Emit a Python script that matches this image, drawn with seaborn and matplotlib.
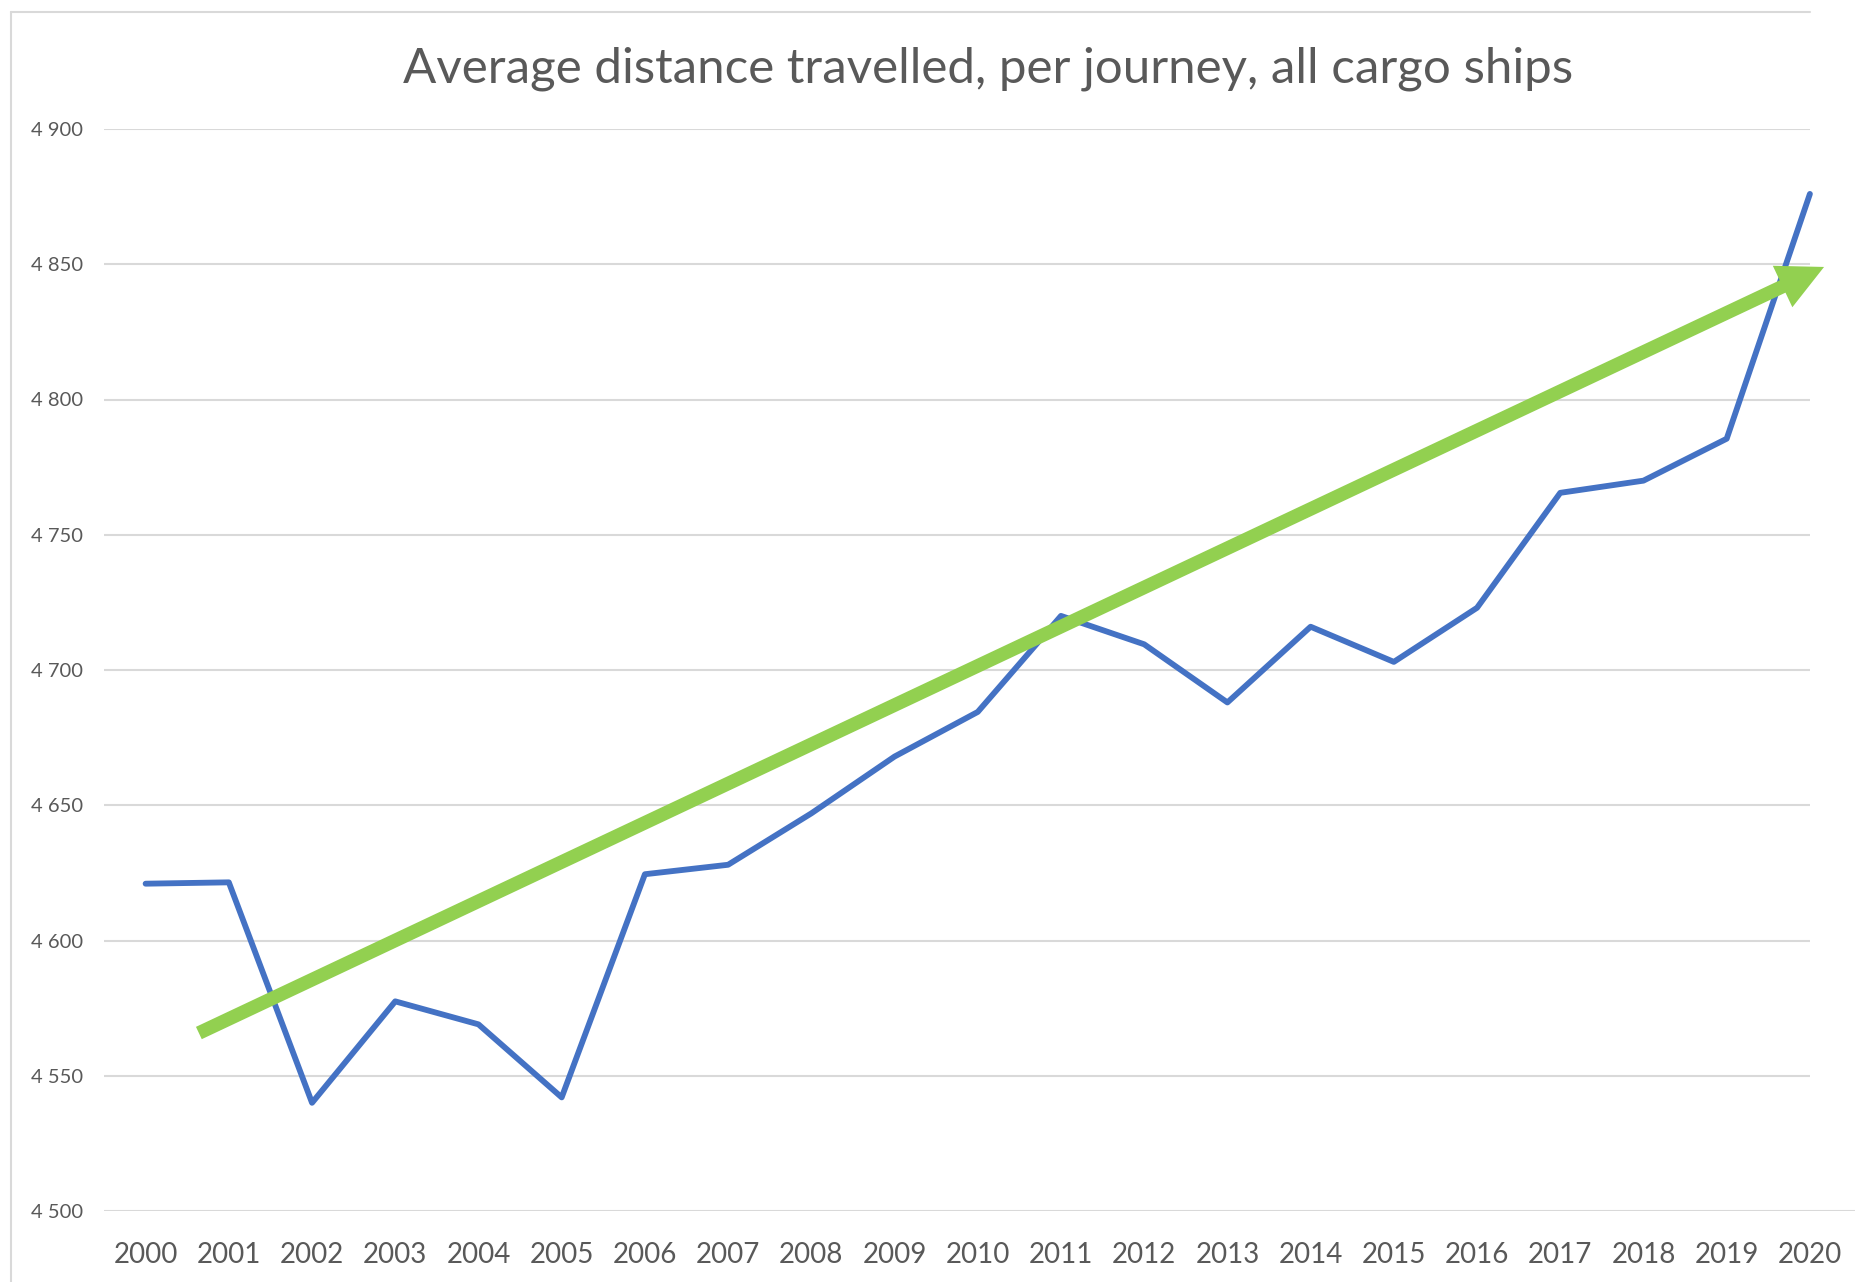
import matplotlib
matplotlib.use("Agg")
import matplotlib.pyplot as plt
from matplotlib.lines import Line2D
import seaborn as sns
import pandas as pd

# Data
years = list(range(2000, 2021))
avg_distance = [4621, 4621.5, 4540, 4577.5, 4569, 4542, 4624.5, 4628, 4647, 4668,
                4684.5, 4720, 4709.5, 4688, 4716, 4703, 4723, 4765.5, 4770, 4785.5, 4876]
y_ticks = [4500, 4550, 4600, 4650, 4700, 4750, 4800, 4850, 4900]
# hand-drawn trend arrow (start / tip in data units)
trend_start = (2000.64, 4565.8)
trend_end = (2020.17, 4849.0)

title = "Average distance travelled, per journey, all cargo ships"

df = pd.DataFrame({"year": years, "distance": avg_distance})

sns.set_style("white")
plt.rcParams['font.family'] = ['Lato', 'DejaVu Sans']

text_col = "#595959"
grid_col = "#d9d9d9"

W, H = 1855, 1282
fig = plt.figure(figsize=(W / 100, H / 100), dpi=100)
ax = fig.add_axes([104 / W, 1 - 1211 / H, 1 - 104 / W, (1211 - 129) / H])

# Gridlines (stop at last category, bottom one runs to the edge)
ax.hlines(y_ticks[1:], 1999.5, 2020, color=grid_col, lw=1.5, zorder=0)
ax.hlines(y_ticks[0], 1999.5, 2020.6, color=grid_col, lw=1.5, zorder=0)

sns.lineplot(data=df, x="year", y="distance", ax=ax, color="#4472C4", lw=4.2,
             solid_joinstyle="round", zorder=3)

# Trend arrow
ax.annotate("", xy=trend_end, xytext=trend_start,
            arrowprops=dict(arrowstyle="simple,head_length=33,head_width=33,tail_width=9.8",
                            mutation_scale=1, color="#92D050", lw=0,
                            shrinkA=0, shrinkB=0), zorder=4)

ax.set_xlim(1999.5, 2000 + (W - 145.5) / 83.22)
ax.set_ylim(4500, 4900)
ax.set_xticks(years)
ax.set_xticklabels([str(y) for y in years])
ax.set_yticks(y_ticks)
ax.set_yticklabels([f"{v // 1000} {v % 1000:03d}" for v in y_ticks])
ax.tick_params(axis="x", length=0, pad=22, labelsize=20, labelcolor=text_col)
ax.tick_params(axis="y", length=0, pad=15, labelsize=14.5, labelcolor=text_col)
ax.set_xlabel("")
ax.set_ylabel("")
for spine in ax.spines.values():
    spine.set_visible(False)

# Chart border (left + top)
fig.add_artist(Line2D([11 / W, 11 / W], [0, 1 - 12 / H], transform=fig.transFigure,
                      color=grid_col, lw=1.5))
fig.add_artist(Line2D([11 / W, 1810 / W], [1 - 12 / H, 1 - 12 / H], transform=fig.transFigure,
                      color=grid_col, lw=1.5))

fig.text(988 / W, 1 - 69 / H, title, ha="center", va="center", fontsize=35.5, color=text_col)

fig.savefig("out.png", dpi=100)
